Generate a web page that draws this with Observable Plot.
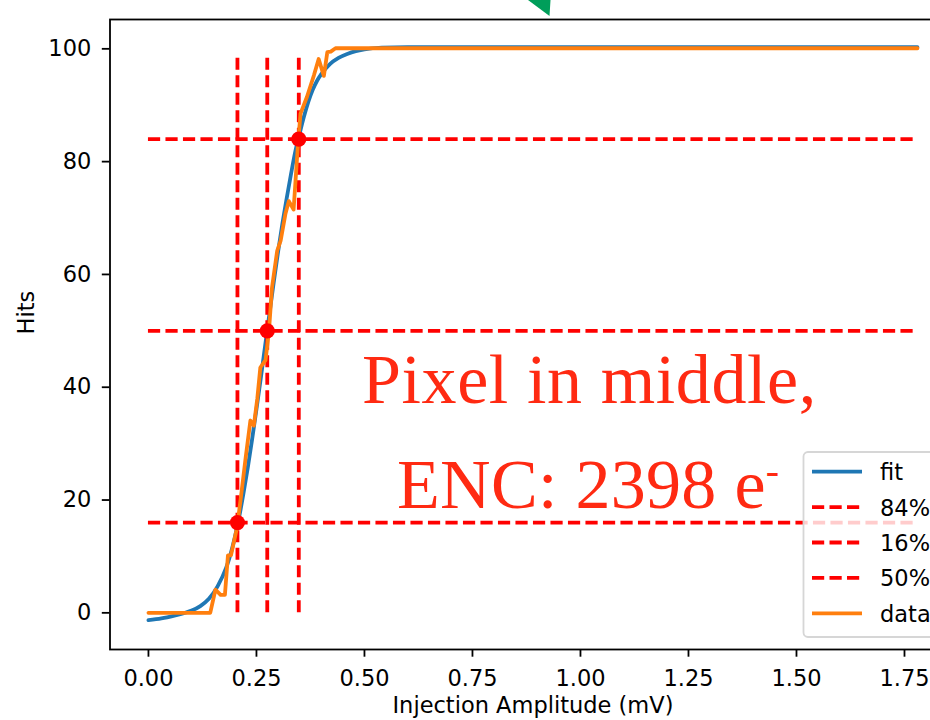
<!DOCTYPE html>
<html>
<head>
<meta charset="utf-8">
<script src="https://cdn.jsdelivr.net/npm/d3@7"></script>
<script src="https://cdn.jsdelivr.net/npm/@observablehq/plot@0.6"></script>
<style>
html, body { margin: 0; padding: 0; background: #fff; overflow: hidden; width: 930px; height: 720px; }
#wrap { position: relative; width: 930px; height: 720px; overflow: hidden; }
#wrap svg { max-width: none !important; }
#ov { position: absolute; left: 0; top: 0; }
</style>
</head>
<body>
<div id="wrap"></div>
<script>
// ---- data ----
const fitX = [0.00, 0.03, 0.06, 0.08, 0.10, 0.12, 0.14, 0.16, 0.18, 0.19, 0.20, 0.21, 0.22, 0.23, 0.24, 0.25, 0.26, 0.27, 0.28, 0.29, 0.30, 0.31, 0.32, 0.33, 0.34, 0.35, 0.36, 0.37, 0.38, 0.39, 0.40, 0.42, 0.44, 0.46, 0.48, 0.50, 0.54, 0.60, 1.78];
const fitY = [-1.3, -1.0, -0.5, -0.1, 0.4, 1.2, 2.5, 4.7, 8.0, 10.4, 13.4, 17.0, 21.2, 25.8, 30.8, 36.1, 41.6, 47.3, 53.0, 58.6, 64.0, 69.0, 73.5, 77.8, 81.8, 85.0, 88.0, 90.6, 92.7, 94.3, 95.5, 97.3, 98.4, 99.1, 99.6, 99.9, 100.2, 100.3, 100.3];

const dataX = [0.000, 0.143, 0.155, 0.167, 0.177, 0.184, 0.191, 0.205, 0.214, 0.225, 0.236, 0.244, 0.252, 0.259, 0.271, 0.279, 0.286, 0.298, 0.306, 0.317, 0.325, 0.336, 0.346, 0.352, 0.367, 0.383, 0.394, 0.406, 0.414, 0.422, 0.433, 1.78];
const dataY = [0, 0, 4.1, 3.2, 3.2, 10.2, 10.2, 15.1, 20.5, 27.5, 34.1, 33.2, 38.0, 43.5, 44.8, 50.0, 57.7, 64.2, 66.0, 70.7, 73.0, 71.5, 83.0, 88.5, 91.5, 95.3, 98.2, 95.2, 99.4, 99.5, 100.1, 100.1];

const levelLabels = ["84%", "16%", "50%"];
const levels = [84, 16, 50];
const crossX = [0.348, 0.206, 0.275];

const xTicks = [0.00, 0.25, 0.50, 0.75, 1.00, 1.25, 1.50, 1.75];
const yTicks = [0, 20, 40, 60, 80, 100];

const legendLabels = ["fit", "84%", "16%", "50%", "data"];
const annotationLines = ["Pixel in middle,", "ENC: 2398 e"];

// ---- build tables ----
const fit = fitX.map((x, i) => ({x, y: fitY[i]}));
const data = dataX.map((x, i) => ({x, y: dataY[i]}));
const crosses = crossX.map((x, i) => ({x, y: levels[i]}));

const BLUE = "#1f77b4", ORANGE = "#ff7f0e", RED = "#ff0000";
const LW = 3.8, DASH = "12.2,5.3";
const FS = 22.5;

const chart = Plot.plot({
  width: 960,
  height: 720,
  marginLeft: 109.5,
  marginRight: 4.6,
  marginTop: 19,
  marginBottom: 71,
  style: {fontFamily: "DejaVu Sans", fontSize: FS + "px", color: "#000", background: "#fff", maxWidth: "none"},
  x: {domain: [-0.089, 1.869]},
  y: {domain: [-6.5, 105.2]},
  marks: [
    Plot.line(fit, {x: "x", y: "y", stroke: BLUE, strokeWidth: LW, curve: "monotone-x"}),
    Plot.ruleY(levels, {y: d => d, x1: () => 0, x2: () => 1.78, stroke: RED, strokeWidth: LW, strokeDasharray: DASH}),
    Plot.ruleX(crossX, {x: d => d, y1: () => 0, y2: () => 99, stroke: RED, strokeWidth: LW, strokeDasharray: DASH}),
    Plot.line(data, {x: "x", y: "y", stroke: ORANGE, strokeWidth: LW}),
    Plot.dot(crosses, {x: "x", y: "y", r: 7.6, fill: RED}),
    Plot.frame({stroke: "#000", strokeWidth: 1.8}),
    Plot.axisX({ticks: xTicks, tickFormat: d3.format(".2f"), tickSize: 7.7, tickPadding: 13, fontSize: FS, strokeWidth: 1.8, label: null}),
    Plot.axisY({ticks: yTicks, tickSize: 7.7, tickPadding: 11, fontSize: FS, strokeWidth: 1.8, label: null}),
    Plot.text(["Injection Amplitude (mV)"], {text: d => d, frameAnchor: "bottom", dy: 63, fontSize: FS, fill: "#000"}),
    Plot.text(["Hits"], {text: d => d, frameAnchor: "left", dx: -83, rotate: -90, fontSize: FS, fill: "#000"})
  ]
});

const wrap = document.getElementById("wrap");
wrap.appendChild(chart);

// ---- overlay: legend, annotation, arrow tip ----
const NS = "http://www.w3.org/2000/svg";
const ov = document.createElementNS(NS, "svg");
ov.setAttribute("id", "ov");
ov.setAttribute("width", 930);
ov.setAttribute("height", 720);
function el(tag, attrs, parent) {
  const e = document.createElementNS(NS, tag);
  for (const k in attrs) e.setAttribute(k, attrs[k]);
  (parent || ov).appendChild(e);
  return e;
}

// green arrow tip entering from the top
el("polygon", {points: "528,0 550.5,0 549.5,16", fill: "#009e5a"});

// legend
el("rect", {x: 803.5, y: 452, width: 170, height: 185, rx: 4.4, fill: "#fff", "fill-opacity": 0.8, stroke: "#d6d6d6", "stroke-width": 1.8});
const legendStyles = [
  {stroke: BLUE, dash: null},
  {stroke: RED, dash: DASH},
  {stroke: RED, dash: DASH},
  {stroke: RED, dash: DASH},
  {stroke: ORANGE, dash: null}
];
legendLabels.forEach((lab, i) => {
  const cy = 471.7 + i * 35.4;
  const a = {x1: 812, x2: 862, y1: cy, y2: cy, stroke: legendStyles[i].stroke, "stroke-width": LW};
  if (legendStyles[i].dash) a["stroke-dasharray"] = DASH;
  el("line", a);
  const t = el("text", {x: 880, y: cy + 8.5, "font-family": "DejaVu Sans", "font-size": FS, fill: "#000"});
  t.textContent = lab;
});

// annotation text
const t1 = el("text", {x: 362, y: 403, "font-family": "Liberation Serif", "font-size": 70, "letter-spacing": 0.6, fill: "#ff2a12"});
t1.textContent = annotationLines[0];
const t2 = el("text", {x: 397, y: 508, "font-family": "Liberation Serif", "font-size": 70, "letter-spacing": 0.3, fill: "#ff2a12"});
t2.appendChild(document.createTextNode(annotationLines[1]));
const sup = el("tspan", {"font-size": 40, dy: -24}, t2);
sup.textContent = "-";

wrap.appendChild(ov);
</script>
</body>
</html>
